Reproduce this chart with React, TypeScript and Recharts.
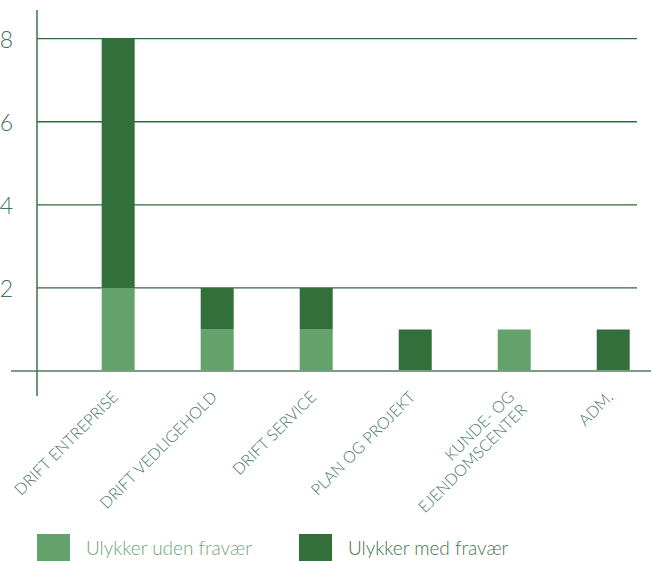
import React from "react";
import {
  BarChart,
  Bar,
  XAxis,
  YAxis,
  CartesianGrid,
  ReferenceLine,
  Legend,
} from "recharts";

const categories = [
  "DRIFT ENTREPRISE",
  "DRIFT VEDLIGEHOLD",
  "DRIFT SERVICE",
  "PLAN OG PROJEKT",
  "KUNDE- OG\nEJENDOMSCENTER",
  "ADM.",
];
const udenFravaer = [2, 1, 1, 0, 1, 0];
const medFravaer = [6, 1, 1, 1, 0, 1];
const yTicks = [2, 4, 6, 8];
const xTicks = [0, 1, 2, 3, 4, 5];

const seriesNames = ["Ulykker uden fravær", "Ulykker med fravær"];
const LIGHT = "#64a26c";
const DARK = "#336f3b";
const TEXT = "#3f7364";
const FONT = "Lato, 'Open Sans', sans-serif";

const data = categories.map((c, i) => ({
  idx: i,
  name: c,
  uden: udenFravaer[i],
  med: medFravaer[i],
}));

const XTick = (props: any) => {
  const { x, y, payload } = props;
  const label = categories[payload.value] ?? "";
  const lines = label.split("\n");
  return (
    <g transform={`translate(${x + 1},${y + 2})`}>
      <text
        transform="rotate(-45)"
        textAnchor="end"
        fill={TEXT}
        fontSize={16}
        fontWeight={300}
        fontFamily={FONT}
      >
        {lines.map((l: string, i: number) => (
          <tspan key={i} x={0} dy={i === 0 ? 0 : 18}>
            {l}
          </tspan>
        ))}
      </text>
    </g>
  );
};

const YTick = (props: any) => {
  const { y, payload } = props;
  return (
    <text
      x={13}
      y={y}
      textAnchor="end"
      dominantBaseline="central"
      fill={TEXT}
      fontSize={23}
      fontWeight={300}
      fontFamily={FONT}
    >
      {payload.value}
    </text>
  );
};

const LegendContent = () => {
  const items = [
    { name: seriesNames[0], color: LIGHT, text: "#6fa477", width: 262 },
    { name: seriesNames[1], color: DARK, text: "#3f744a", width: 250 },
  ];
  return (
    <div style={{ display: "flex", height: 27, alignItems: "center" }}>
      {items.map((it) => (
        <div
          key={it.name}
          style={{ display: "flex", alignItems: "center", width: it.width }}
        >
          <div style={{ width: 33, height: 27, background: it.color }} />
          <span
            style={{
              marginLeft: 16,
              color: it.text,
              fontFamily: FONT,
              fontWeight: 300,
              fontSize: 19,
              lineHeight: "27px",
            }}
          >
            {it.name}
          </span>
        </div>
      ))}
    </div>
  );
};

const BaseLine = (props: any) => (
  <line
    x1={11}
    x2={651}
    y1={props.y1}
    y2={props.y2}
    stroke="#7c9e84"
    strokeWidth={2}
  />
);

export default function App() {
  return (
    <div style={{ position: "absolute", left: 0, top: 0, width: 651, height: 561 }}>
      <BarChart
        width={651}
        height={561}
        data={data}
        margin={{ top: 10, right: 14, left: 7, bottom: 0 }}
      >
        <CartesianGrid
          vertical={false}
          horizontal={true}
          syncWithTicks
          stroke="#2f6b3b"
          strokeWidth={1.3}
        />
        <XAxis
          dataKey="idx"
          type="number"
          domain={[-0.82, 5.24]}
          ticks={xTicks}
          allowDataOverflow
          axisLine={false}
          tickLine={false}
          tick={<XTick />}
          tickMargin={0}
          tickSize={0}
          interval={0}
          height={138}
        />
        <YAxis
          type="number"
          domain={[-0.6, 8.69]}
          ticks={yTicks}
          allowDataOverflow
          width={30}
          axisLine={{ stroke: "#3f7049", strokeWidth: 1.5 }}
          tickLine={false}
          tick={<YTick />}
        />
        <ReferenceLine y={0} shape={<BaseLine />} />
        <Bar
          dataKey="uden"
          name={seriesNames[0]}
          stackId="a"
          fill={LIGHT}
          barSize={33}
          isAnimationActive={false}
        />
        <Bar
          dataKey="med"
          name={seriesNames[1]}
          stackId="a"
          fill={DARK}
          barSize={33}
          isAnimationActive={false}
        />
        <Legend
          content={<LegendContent />}
          wrapperStyle={{ position: "absolute", left: 37, top: 534, width: 560, height: 27 }}
        />
      </BarChart>
    </div>
  );
}
